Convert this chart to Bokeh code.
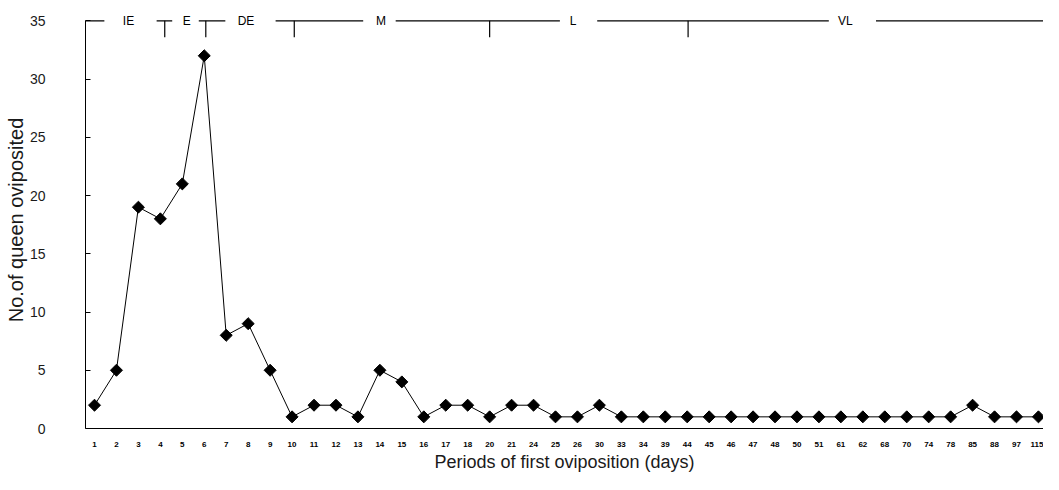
import math
from bokeh.plotting import figure
from bokeh.embed import file_html
from bokeh.resources import INLINE
from bokeh.models import FixedTicker, ColumnDataSource
from bokeh.core.properties import value

# ---- data ----
day_labels = ["1", "2", "3", "4", "5", "6", "7", "8", "9", "10", "11", "12", "13", "14", "15",
              "16", "17", "18", "20", "21", "24", "25", "26", "30", "33", "34", "39", "44",
              "45", "46", "47", "48", "50", "51", "61", "62", "68", "70", "74", "78", "85",
              "88", "97", "115"]
queens = [2, 5, 19, 18, 21, 32, 8, 9, 5, 1, 2, 2, 1, 5, 4, 1, 2, 2, 1, 2, 2, 1, 1, 2, 1,
          1, 1, 1, 1, 1, 1, 1, 1, 1, 1, 1, 1, 1, 1, 1, 2, 1, 1, 1]
phase_names = ["IE", "E", "DE", "M", "L", "VL"]
phase_label_pos = [2.55, 5.2, 7.9, 14.05, 22.8, 35.2]
phase_bounds = [4.2, 6.07, 10.1, 19.0, 28.04]
y_ticks = [0, 5, 10, 15, 20, 25, 30, 35]

pos = list(range(1, len(day_labels) + 1))
src = ColumnDataSource(dict(x=pos, y=queens))

p = figure(width=1043, height=474, output_backend="svg", toolbar_location=None,
           x_range=(0.59, 44.23), y_range=(0, 35.8),
           min_border_left=85, min_border_right=0, min_border_top=11, min_border_bottom=38)
p.outline_line_color = None
p.xgrid.visible = False
p.ygrid.visible = False

p.line("x", "y", source=src, line_color="black", line_width=1)
p.scatter("x", "y", source=src, marker="square", angle=math.pi / 4, size=8.5,
          fill_color="black", line_color="black")

# top phase line (at y = 35) with gaps for the phase names
segs = [(0.59, 1.45), (3.83, 4.54), (5.75, 6.96), (9.25, 13.24), (14.72, 22.2), (23.9, 34.45), (36.6, 44.23)]
p.segment(x0=[s[0] for s in segs], x1=[s[1] for s in segs], y0=35, y1=35,
          line_color="black", line_width=1.2)
p.segment(x0=phase_bounds, x1=phase_bounds, y0=35, y1=33.6, line_color="black", line_width=1.2)
p.text(x=phase_label_pos, y=35, text=phase_names, text_align="center", text_baseline="middle",
       text_font=value("Liberation Sans"), text_font_size="12px", text_color="black")

# x axis
p.xaxis.ticker = FixedTicker(ticks=pos)
p.xaxis.major_label_overrides = {i: l for i, l in zip(pos, day_labels)}
p.xaxis.major_label_text_font_size = "8px"
p.xaxis.major_label_text_font_style = "bold"
p.xaxis.major_label_text_color = "black"
p.xaxis.major_label_standoff = 13
p.xaxis.major_tick_in = 0
p.xaxis.major_tick_out = 0
p.xaxis.minor_tick_line_color = None
p.xaxis.axis_label = "Periods of first oviposition (days)"
p.xaxis.axis_label_text_font = "Liberation Sans"
p.xaxis.axis_label_text_font_style = "normal"
p.xaxis.axis_label_text_font_size = "18px"
p.xaxis.axis_label_text_color = "#1a1a1a"
p.xaxis.axis_label_standoff = 2
p.xaxis.axis_line_color = "black"

# y axis
p.yaxis.ticker = FixedTicker(ticks=y_ticks)
p.yaxis.bounds = (0, 35)
p.yaxis.major_label_text_font = "Liberation Sans"
p.yaxis.major_label_text_font_size = "14px"
p.yaxis.major_label_text_color = "#1a1a1a"
p.yaxis.major_label_standoff = 40
p.yaxis.major_tick_in = 5
p.yaxis.major_tick_out = 0
p.yaxis.minor_tick_line_color = None
p.yaxis.axis_label = "No.of queen oviposited"
p.yaxis.axis_label_text_font = "Liberation Sans"
p.yaxis.axis_label_text_font_style = "normal"
p.yaxis.axis_label_text_font_size = "20px"
p.yaxis.axis_label_text_color = "#1a1a1a"
p.yaxis.axis_label_standoff = 0
p.yaxis.axis_line_color = "black"

open("out.html", "w").write(file_html(p, INLINE))
